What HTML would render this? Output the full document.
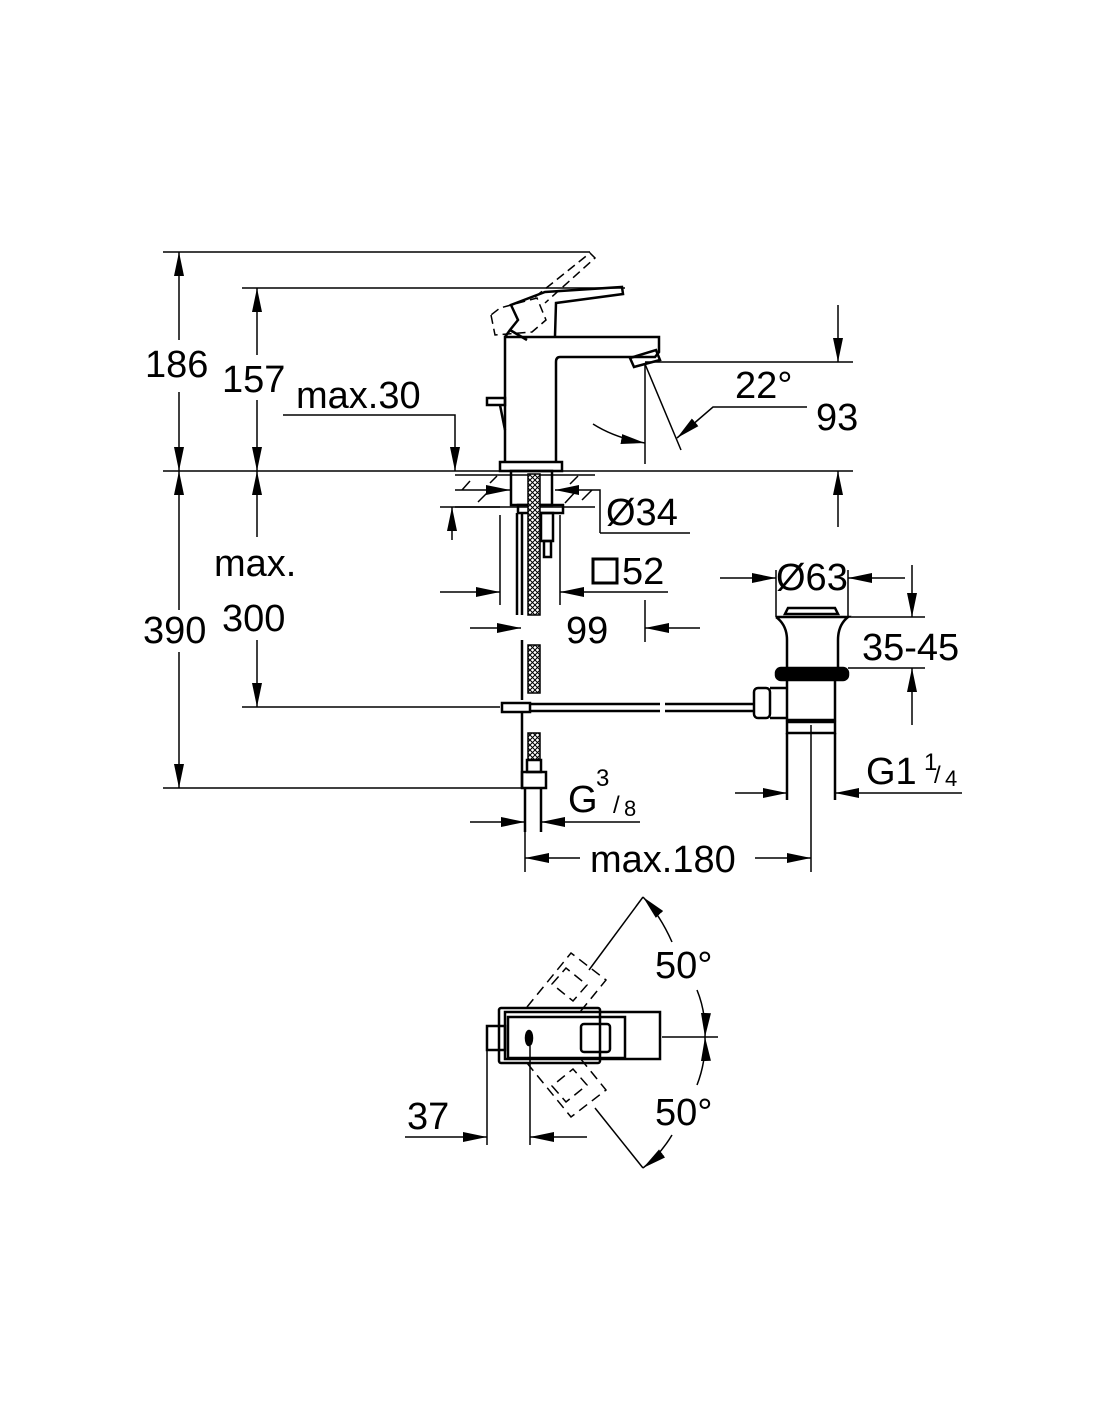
<!DOCTYPE html>
<html><head><meta charset="utf-8"><style>
html,body{margin:0;padding:0;background:#fff}
svg{display:block}
text{font-family:"Liberation Sans",Arial,sans-serif;fill:#000}
</style></head><body>
<svg width="1100" height="1422" viewBox="0 0 1100 1422" xmlns="http://www.w3.org/2000/svg">
<defs>
<marker id="a" viewBox="0 0 24 10" refX="24" refY="5" markerWidth="24" markerHeight="10" markerUnits="userSpaceOnUse" orient="auto-start-reverse"><path d="M0,0 L24,5 L0,10 z" fill="#000"/></marker>
<pattern id="hx" width="5" height="5" patternUnits="userSpaceOnUse"><rect width="5" height="5" fill="#fff"/><path d="M0,0 L5,5 M5,0 L0,5" stroke="#000" stroke-width="1"/></pattern>
</defs>
<g stroke="#000" stroke-width="1.5" fill="none">
<!-- horizontal reference lines -->
<line x1="163" y1="252" x2="590" y2="252"/>
<line x1="242" y1="288" x2="625" y2="288"/>
<line x1="163" y1="471" x2="853" y2="471"/>
<line x1="163" y1="788" x2="525" y2="788"/>
<line x1="242" y1="707" x2="500" y2="707"/>
<line x1="645" y1="362" x2="853" y2="362"/>
<!-- 186/390 -->
<line x1="179" y1="340" x2="179" y2="252" marker-end="url(#a)"/>
<line x1="179" y1="392" x2="179" y2="471" marker-end="url(#a)"/>
<line x1="179" y1="610" x2="179" y2="471" marker-end="url(#a)"/>
<line x1="179" y1="652" x2="179" y2="788" marker-end="url(#a)"/>
<!-- 157/300 -->
<line x1="257" y1="355" x2="257" y2="288" marker-end="url(#a)"/>
<line x1="257" y1="400" x2="257" y2="471" marker-end="url(#a)"/>
<line x1="257" y1="537" x2="257" y2="471" marker-end="url(#a)"/>
<line x1="257" y1="640" x2="257" y2="707" marker-end="url(#a)"/>
<!-- max.30 -->
<polyline points="283,415 455,415 455,471" marker-end="url(#a)"/>
<line x1="452" y1="540" x2="452" y2="507" marker-end="url(#a)"/>
<line x1="440" y1="507" x2="500" y2="507"/>
<!-- 93 -->
<line x1="838" y1="305" x2="838" y2="362" marker-end="url(#a)"/>
<line x1="838" y1="527" x2="838" y2="471" marker-end="url(#a)"/>
<!-- 22 deg -->
<line x1="645" y1="364" x2="645" y2="464"/>
<line x1="645" y1="364" x2="681" y2="450"/>
<polyline points="807,407 713,407 677,438" marker-end="url(#a)"/>
<path d="M593,424 Q615,438 645,443" marker-end="url(#a)"/>
<!-- faucet body -->
<g stroke-width="2.5">
<path d="M505,462 V337 H659 V352 L655,357 H560 Q556,357 556,362 V462"/>
<path d="M500,462 H562 V471 H500 Z"/>
<path d="M630,358 L656,350 L660,360 L634,367 Z"/>
<path d="M505,337 L510,330 L518,320 L511,305 L545,292 L622,287 L623,294 L556,303 L555,336"/>
<path d="M510,330 L527,340"/>
<path d="M487,398 H505 V405 H487 Z"/>
<path d="M500,405 L505,430"/>
</g>
<g stroke-dasharray="9,5">
<path d="M491,315 L495,335 L532,332 L546,320 L537,298 L500,308 Z"/>
<path d="M535,297 L590,253 L595,258 L545,303"/>
</g>
<!-- counter hatching -->
<line x1="455" y1="475" x2="595" y2="475"/>
<line x1="455" y1="507" x2="595" y2="507"/>
<path d="M462,490 L470,481 M478,502 L492,488 M490,483 L497,476 M570,484 L578,476 M565,503 L577,490 M582,500 L592,490"/>
<line x1="455" y1="490" x2="510" y2="490" marker-end="url(#a)"/>
<polyline points="600,533 690,533" />
<polyline points="600,533 600,490 555,490" marker-end="url(#a)"/>
<!-- shank -->
<g stroke-width="2.5">
<rect x="511" y="471" width="41" height="34"/>
<rect x="518" y="505" width="45" height="8"/>
<line x1="517" y1="513" x2="517" y2="615"/>
<line x1="522" y1="513" x2="522" y2="615"/>
<rect x="541" y="513" width="12" height="28"/>
<rect x="544" y="541" width="7" height="16"/>
</g>
<rect x="528" y="474" width="12" height="141" fill="url(#hx)"/>
<rect x="528" y="645" width="12" height="48" fill="url(#hx)"/>
<rect x="528" y="733" width="12" height="27" fill="url(#hx)"/>
<g stroke-width="2.5">
<line x1="522" y1="640" x2="522" y2="700"/>
<rect x="502" y="703" width="28" height="9"/>
<line x1="522" y1="712" x2="522" y2="788"/>
<rect x="527" y="760" width="14" height="12"/>
<rect x="522" y="772" width="24" height="16"/>
<line x1="525" y1="788" x2="525" y2="832"/>
<line x1="541" y1="788" x2="541" y2="832"/>
<line x1="530" y1="704" x2="660" y2="704"/>
<line x1="530" y1="711" x2="660" y2="711"/>
<line x1="665" y1="704" x2="755" y2="704"/>
<line x1="665" y1="711" x2="755" y2="711"/>
</g>
<!-- 52 / 99 -->
<line x1="500" y1="515" x2="500" y2="605"/>
<line x1="560" y1="515" x2="560" y2="605"/>
<line x1="440" y1="592" x2="500" y2="592" marker-end="url(#a)"/>
<line x1="668" y1="592" x2="560" y2="592" marker-end="url(#a)"/>
<rect x="593" y="559" width="24" height="24" stroke-width="3"/>
<line x1="470" y1="628" x2="521" y2="628" marker-end="url(#a)"/>
<line x1="700" y1="628" x2="645" y2="628" marker-end="url(#a)"/>
<line x1="645" y1="600" x2="645" y2="642"/>
<!-- G3/8 -->
<line x1="470" y1="822" x2="525" y2="822" marker-end="url(#a)"/>
<polyline points="640,822 541,822" marker-end="url(#a)"/>
<!-- max.180 -->
<line x1="525" y1="790" x2="525" y2="872"/>
<line x1="811" y1="725" x2="811" y2="872"/>
<line x1="580" y1="858" x2="525" y2="858" marker-end="url(#a)"/>
<line x1="755" y1="858" x2="811" y2="858" marker-end="url(#a)"/>
<!-- drain -->
<g stroke-width="2.5">
<path d="M788,608 H835 L838,614 H785 Z"/>
<path d="M776,617 H848 Q838,625 838,640 V668 M776,617 Q787,625 787,640 V668"/>
<rect x="776" y="668" width="72" height="12" rx="5" fill="#000"/>
<path d="M787,680 V720 H835 V680"/>
<rect x="787" y="722" width="48" height="11"/>
<path d="M770,688 H787 M770,718 H787"/>
<rect x="754" y="688" width="16" height="30" rx="4"/>
<line x1="787" y1="733" x2="787" y2="800"/>
<line x1="835" y1="733" x2="835" y2="800"/>
</g>
<line x1="776" y1="570" x2="776" y2="617"/>
<line x1="848" y1="570" x2="848" y2="617"/>
<line x1="720" y1="578" x2="776" y2="578" marker-end="url(#a)"/>
<line x1="905" y1="578" x2="848" y2="578" marker-end="url(#a)"/>
<line x1="848" y1="617" x2="925" y2="617"/>
<line x1="848" y1="668" x2="925" y2="668"/>
<line x1="912" y1="565" x2="912" y2="617" marker-end="url(#a)"/>
<line x1="912" y1="725" x2="912" y2="668" marker-end="url(#a)"/>
<line x1="735" y1="793" x2="787" y2="793" marker-end="url(#a)"/>
<line x1="962" y1="793" x2="835" y2="793" marker-end="url(#a)"/>
<!-- top view -->
<g stroke-width="2.5">
<rect x="499" y="1008" width="101" height="55" rx="2"/>
<rect x="505" y="1012" width="155" height="47"/>
<rect x="508" y="1017" width="117" height="41"/>
<rect x="581" y="1024" width="29" height="28" rx="3"/>
<rect x="487" y="1026" width="18" height="24"/>
<ellipse cx="529" cy="1038" rx="3" ry="7" fill="#000"/>
</g>
<g stroke-dasharray="10,6">
<path d="M527,1007 L571,953 L606,980 L580,1012"/>
<path d="M552,984 L566,968 L587,985 L573,1001 Z"/>
<path d="M527,1063 L571,1117 L606,1090 L580,1058"/>
<path d="M552,1086 L566,1102 L587,1085 L573,1069 Z"/>
</g>
<line x1="589" y1="970" x2="643" y2="897"/>
<line x1="595" y1="1108" x2="643" y2="1168"/>
<path d="M672,942 Q660,915 643,897" marker-end="url(#a)"/>
<path d="M672,1135 Q660,1155 643,1168" marker-end="url(#a)"/>
<line x1="662" y1="1037" x2="718" y2="1037"/>
<path d="M697,990 Q706,1012 705,1037" marker-end="url(#a)"/>
<path d="M697,1085 Q706,1062 705,1037" marker-end="url(#a)"/>
<line x1="487" y1="1050" x2="487" y2="1145"/>
<line x1="530" y1="1046" x2="530" y2="1145"/>
<line x1="405" y1="1137" x2="487" y2="1137" marker-end="url(#a)"/>
<line x1="587" y1="1137" x2="530" y2="1137" marker-end="url(#a)"/>
</g>
<g font-size="38">
<text x="145" y="377">186</text>
<text x="222" y="392">157</text>
<text x="296" y="408">max.30</text>
<text x="214" y="576">max.</text>
<text x="222" y="631">300</text>
<text x="143" y="643">390</text>
<text x="735" y="398">22°</text>
<text x="816" y="430">93</text>
<text x="606" y="525">Ø34</text>
<text x="622" y="584">52</text>
<text x="566" y="643">99</text>
<text x="776" y="590">Ø63</text>
<text x="862" y="660">35-45</text>
<text x="866" y="784">G1</text>
<text x="568" y="812">G</text>
<text x="590" y="872">max.180</text>
<text x="655" y="978">50°</text>
<text x="655" y="1125">50°</text>
<text x="407" y="1129">37</text>
</g>
<g font-size="24">
<text x="596" y="786">3</text><text x="613" y="813">/</text><text x="624" y="816" font-size="22">8</text>
<text x="924" y="770">1</text><text x="934" y="783">/</text><text x="945" y="786" font-size="22">4</text>
</g>
</svg>
</body></html>
